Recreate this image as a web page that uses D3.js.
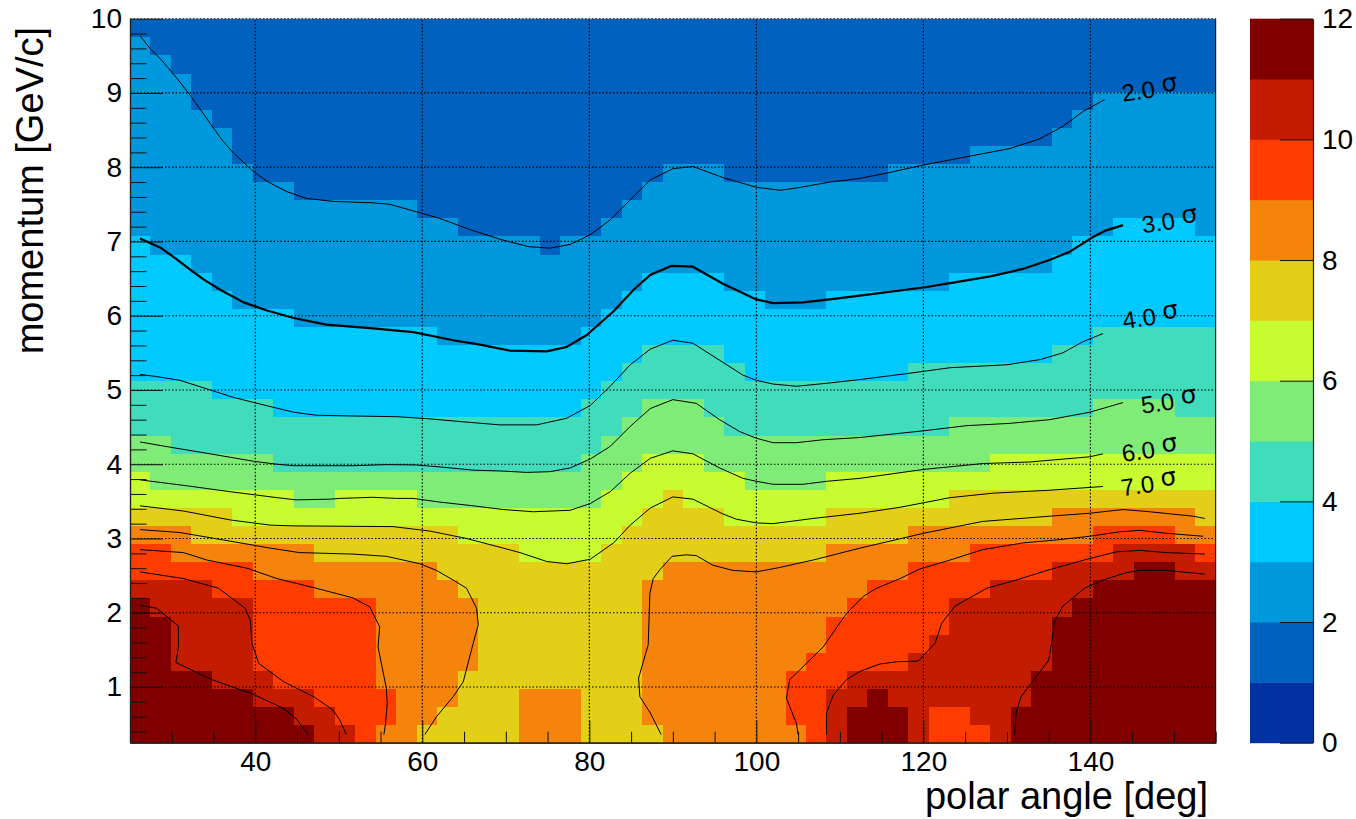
<!DOCTYPE html>
<html>
<head>
<meta charset="utf-8">
<script src="https://cdn.jsdelivr.net/npm/d3@7"></script>
<style>
  body { margin: 0; background: #fff; }
  text { font-family: "Liberation Sans", sans-serif; fill: #000; }
</style>
</head>
<body>
<div id="chart"></div>
<script>
// Histogram binning
const angleRange = [25, 155];
const momentumRange = [0.25, 10];
const nCols = 53;
const nRows = 40;

// For each column: how many rows (from the bottom) reach at least this level
const edge2 = [39,38,37,35,34,32,31,31,30,30,30,30,30,30,29,29,28,28,28,28,27,28,28,29,30,31,32,32,32,31,31,31,31,31,31,31,31,32,32,32,32,33,33,33,33,34,35,36,36,36,36,36,36];
const edge3 = [28,27,27,26,25,24,24,24,23,23,23,23,23,23,23,22,22,22,22,22,22,22,23,24,25,26,26,26,26,25,25,24,24,24,25,25,25,25,25,25,26,26,26,26,26,27,28,28,29,29,29,29,28];
const edge4 = [20,20,20,20,19,19,19,18,18,18,18,18,18,18,18,18,18,18,18,18,18,18,19,20,21,22,22,22,22,21,20,20,20,20,20,20,20,20,21,21,21,21,21,21,21,22,22,23,23,23,23,23,23];
const edge5 = [17,17,16,16,16,16,16,15,15,15,15,15,15,15,15,15,15,15,15,15,15,15,16,17,18,19,19,19,18,17,17,17,17,17,17,17,17,17,17,17,18,18,18,18,18,18,18,19,19,19,19,18,18];
const edge6 = [15,14,14,14,14,14,14,14,13,13,14,14,14,14,13,13,13,13,13,13,13,13,13,14,15,16,16,16,15,15,14,14,14,14,15,15,15,15,15,15,15,15,16,16,16,16,16,16,16,16,16,16,16];
const edge7 = [13,13,13,13,13,12,12,12,12,12,12,12,12,12,12,12,11,11,11,10,10,10,10,11,12,13,14,13,13,12,12,12,12,12,13,13,13,13,13,13,14,14,14,14,14,14,14,14,14,14,14,14,14];
const edge8 = [12,12,12,11,11,11,11,11,11,10,10,10,10,10,10,9,8,0,0,3,3,3,0,0,0,9,10,10,10,10,10,10,10,10,11,11,11,11,12,12,12,12,12,12,12,13,13,13,13,13,13,13,12];
const edge9 = [11,11,10,10,10,10,9,9,9,8,8,8,3,0,0,0,0,0,0,0,0,0,0,0,0,0,0,0,0,0,0,0,4,5,7,8,9,9,10,10,10,11,11,11,11,11,11,12,12,12,12,11,11];
const edge10 = [9,9,9,9,8,8,4,3,3,2,1,0,0,0,0,0,0,0,0,0,0,0,0,0,0,0,0,0,0,0,0,0,0,0,3,4,4,4,5,6,8,8,9,9,9,10,10,10,11,11,11,11,10];
const edge11 = [8,7,4,4,3,3,2,2,1,0,0,0,0,0,0,0,0,0,0,0,0,0,0,0,0,0,0,0,0,0,0,0,0,0,0,2,3,2,0,0,0,0,0,2,4,7,8,9,9,10,10,9,9];
const levelEdges = [[2, edge2], [3, edge3], [4, edge4], [5, edge5], [6, edge6], [7, edge7], [8, edge8], [9, edge9], [10, edge10], [11, edge11]];

// Low patches at the bottom of some columns: [column, rows, level]
const lowPatches = [[12,1,8],[14,1,7],[15,2,7],[16,4,7],[25,1,7],[32,1,8],[39,2,9],[40,2,9],[41,1,9]];

// Palette, one colour per unit of the z axis
const zColors = ["#0033a1","#0061bf","#0098dc","#00c9ff","#40dcbc","#80ec78","#c8fb30","#e3cf17","#f4840c","#ff3c00","#c31c00","#800000"];
const zTicks = [0, 2, 4, 6, 8, 10, 12];

// Contours, [polar angle, momentum]
const contour2 = [[26.2,9.77],[27.4,9.6],[28.8,9.44],[30.6,9.2],[32.2,8.97],[34.6,8.59],[36,8.37],[37.4,8.19],[39.6,7.96],[41.4,7.81],[43.8,7.67],[46.1,7.58],[49.3,7.54],[54.1,7.52],[56.1,7.5],[59.3,7.4],[62.1,7.31],[65.7,7.16],[69.3,7.03],[72.7,6.93],[75.3,6.91],[77.7,6.96],[80.1,7.09],[82.5,7.29],[84.9,7.56],[87.3,7.83],[90,7.98],[92.4,8.01],[96,7.86],[100,7.73],[102.8,7.69],[104.8,7.72],[108.8,7.8],[112.4,7.85],[115.6,7.92],[120,8.03],[125.6,8.15],[130.3,8.25],[133.9,8.38],[136.7,8.55],[139.1,8.75],[141.7,8.91]];
const contour3 = [[26.2,7.04],[28.6,6.92],[30.6,6.76],[32.2,6.62],[33.8,6.49],[35.8,6.35],[38.6,6.18],[41.4,6.07],[44.6,5.97],[48.5,5.88],[54.1,5.83],[58.9,5.78],[63.7,5.67],[66.9,5.61],[70.5,5.53],[74.9,5.52],[77.3,5.58],[79.7,5.74],[82.9,6.06],[85.3,6.35],[87.3,6.55],[89.8,6.67],[92.4,6.66],[96,6.43],[100,6.22],[102,6.17],[105.6,6.18],[108.8,6.22],[112.4,6.27],[117.2,6.34],[120,6.38],[123.2,6.44],[128,6.53],[131.9,6.63],[135.1,6.75],[137.5,6.86],[140.3,7.06],[141.9,7.15],[143.9,7.22]];
const contour4 = [[26.2,5.21],[28.2,5.18],[31,5.13],[34.6,5],[37.4,4.9],[40.6,4.81],[44.6,4.7],[47.3,4.66],[51.7,4.65],[56.9,4.64],[60.5,4.615],[64.5,4.575],[69.3,4.53],[73.7,4.53],[77.3,4.62],[80.1,4.79],[82.5,5.05],[84.9,5.34],[87.3,5.55],[90,5.67],[92.4,5.63],[95.6,5.4],[98.4,5.2],[100,5.13],[102,5.08],[104.8,5.05],[108.4,5.09],[112.4,5.14],[118,5.22],[123.2,5.3],[130,5.34],[134,5.41],[136.7,5.5],[139.1,5.65],[141.5,5.76]];
const contour5 = [[26.2,4.3],[29.8,4.23],[34.6,4.14],[39.8,4.04],[42.6,4],[44.6,3.98],[51.7,3.98],[55.7,3.995],[59.3,3.99],[62.5,3.96],[66.1,3.92],[69.3,3.91],[72.5,3.89],[75.3,3.9],[77.7,3.95],[80.1,4.07],[82.5,4.24],[84.9,4.51],[87.3,4.75],[90,4.87],[92.8,4.82],[95.6,4.6],[98,4.44],[100,4.35],[102,4.29],[104.8,4.29],[108,4.33],[112.4,4.36],[120,4.45],[125.2,4.52],[130.3,4.55],[135.1,4.6],[139.9,4.7],[143.9,4.83]];
const contour6 = [[26.2,3.79],[31.8,3.71],[37,3.63],[42.6,3.55],[44.9,3.52],[49,3.53],[50.1,3.54],[54.1,3.555],[56.9,3.54],[58.9,3.54],[62.1,3.49],[66.1,3.44],[69.7,3.39],[73.3,3.36],[77.7,3.38],[80.1,3.47],[82.5,3.63],[84.9,3.88],[87.3,4.08],[90,4.18],[92.4,4.14],[95.6,3.95],[98.4,3.81],[100,3.77],[102,3.73],[105.6,3.73],[108.4,3.77],[112.4,3.81],[120,3.93],[127.2,4.01],[132.7,4.03],[139.9,4.1],[141.5,4.14]];
const contour7 = [[26.2,3.44],[31.4,3.37],[37,3.25],[41.8,3.18],[44.6,3.17],[56.5,3.16],[60.9,3.1],[65.3,3],[69.7,2.87],[71.7,2.81],[74.9,2.69],[77.3,2.66],[80.1,2.72],[82.9,2.94],[84.9,3.18],[87.3,3.41],[90,3.56],[92.4,3.53],[96,3.33],[97.6,3.26],[100,3.21],[102,3.2],[106.8,3.27],[112.4,3.34],[117.2,3.42],[123.2,3.55],[128.3,3.61],[135.1,3.65],[141.5,3.7]];
const contour8Left = [[26.2,3.12],[31,3.08],[36.2,2.98],[41.8,2.87],[45.3,2.81],[51.7,2.79],[55.7,2.76],[59.7,2.66],[61.7,2.57],[63.7,2.44],[65.3,2.33],[66.5,2.06],[66.7,1.84],[66.1,1.59],[64.9,1.07],[63.7,0.87],[61.7,0.6],[60.3,0.36]];
const contour8Right = [[88.6,0.36],[87.3,0.65],[86.05,0.87],[85.9,1.12],[87.05,1.57],[87.25,2.26],[87.65,2.46],[88.45,2.58],[89.9,2.76],[91.6,2.78],[92.8,2.77],[94.8,2.64],[97.2,2.57],[100,2.55],[102.8,2.61],[106.8,2.71],[112.4,2.87],[120,3.07],[127.1,3.23],[135.1,3.3],[139.9,3.34],[143.9,3.39],[147.1,3.36],[152.3,3.3],[153.7,3.27]];
const contour9Left = [[26.2,2.85],[31.4,2.81],[34.2,2.71],[39,2.6],[42.6,2.46],[47.3,2.33],[51.7,2.2],[53.7,2.08],[54.9,1.81],[54.7,1.54],[55.7,0.98],[55.8,0.78],[55.6,0.51],[55.4,0.36]];
const contour9Right = [[105,0.36],[104.8,0.51],[103.6,0.85],[104,1.1],[105.2,1.23],[108,1.54],[110.8,1.99],[112.8,2.22],[114.4,2.33],[117.2,2.46],[119.6,2.59],[123.2,2.71],[127.1,2.85],[131.9,2.94],[135.9,2.98],[139.9,3.03],[143.5,3.09],[145.9,3.11],[149.1,3.07],[153.5,3.03]];
const contour10Left = [[26.2,2.55],[31.4,2.46],[35.6,2.33],[38.8,2.06],[39.4,1.9],[39.6,1.59],[40.4,1.32],[43.4,1.07],[47,0.87],[49.3,0.69],[50.1,0.56],[50.9,0.36]];
const contour10Right = [[108.4,0.36],[108.4,0.65],[109.2,0.89],[110.8,1.1],[112.4,1.21],[114.8,1.31],[116.8,1.34],[119.4,1.35],[121.4,1.59],[122.2,1.86],[123.8,2.09],[127.6,2.33],[131.1,2.44],[135.1,2.58],[139.9,2.73],[143.1,2.82],[145.9,2.84],[149.1,2.81],[153.7,2.79]];
const contour11Left = [[26.2,2.1],[28.2,2.06],[30.8,1.82],[30.8,1.54],[30.5,1.33],[34.8,1.1],[39.8,0.9],[43.4,0.71],[45,0.56],[46.3,0.36]];
const contour11Right = [[130.9,0.36],[131.1,0.65],[131.7,0.87],[135,1.36],[135.4,1.63],[135.7,1.88],[136.7,2.09],[139.3,2.33],[141.5,2.44],[144.3,2.54],[145.9,2.57],[149.1,2.57],[153.7,2.52]];
const thinContours = [contour2, contour4, contour5, contour6, contour7, contour8Left, contour8Right, contour9Left, contour9Right, contour10Left, contour10Right, contour11Left, contour11Right];

// Contour labels
const sigmaLabels = ["2.0", "3.0", "4.0", "5.0", "6.0", "7.0"];
const sigmaLabelAngles = [143.9, 146.3, 144, 146.2, 143.9, 143.8];
const sigmaLabelMomenta = [8.88, 7.11, 5.82, 4.68, 4.03, 3.57];

// Layout
const frame = { left: 130, right: 1215.7, top: 18.7, bottom: 742.7 };
const paletteBox = { left: 1250, right: 1313 };

const svg = d3.select("#chart")
  .append("svg")
  .attr("width", 1356)
  .attr("height", 819)
  .style("display", "block");

const x = d3.scaleLinear().domain(angleRange).range([frame.left, frame.right]);
const y = d3.scaleLinear().domain(momentumRange).range([frame.bottom, frame.top]);
const z = d3.scaleLinear().domain([0, 12]).range([frame.bottom, frame.top]);
const colBand = d3.scaleLinear().domain([0, nCols]).range(angleRange);
const rowBand = d3.scaleLinear().domain([0, nRows]).range(momentumRange);

// Build the cells from the level edges
const cells = [];
for (let c = 0; c < nCols; c++) {
  for (let r = 0; r < nRows; r++) {
    let level = 1;
    levelEdges.forEach(([l, edge]) => { if (r < edge[c]) level = l; });
    lowPatches.forEach(([pc, rows, l]) => { if (pc === c && r < rows) level = l; });
    cells.push({ c, r, level });
  }
}

svg.append("g")
  .attr("shape-rendering", "crispEdges")
  .selectAll("rect")
  .data(cells)
  .join("rect")
    .attr("x", (d) => x(colBand(d.c)))
    .attr("y", (d) => y(rowBand(d.r + 1)))
    .attr("width", (d) => x(colBand(d.c + 1)) - x(colBand(d.c)) + 0.5)
    .attr("height", (d) => y(rowBand(d.r)) - y(rowBand(d.r + 1)) + 0.5)
    .attr("fill", (d) => zColors[d.level]);

// Dotted grid
const angleMajor = d3.range(40, 141, 20);
const momentumMajor = d3.range(1, 11);
const grid = svg.append("g")
  .attr("stroke", "#000")
  .attr("stroke-width", 1.2)
  .attr("stroke-dasharray", "1.5 2");
grid.selectAll("line.v")
  .data(angleMajor)
  .join("line")
    .attr("class", "v")
    .attr("x1", (d) => x(d)).attr("x2", (d) => x(d))
    .attr("y1", frame.bottom).attr("y2", frame.top);
grid.selectAll("line.h")
  .data(momentumMajor)
  .join("line")
    .attr("class", "h")
    .attr("x1", frame.left).attr("x2", frame.right)
    .attr("y1", (d) => y(d)).attr("y2", (d) => y(d));

// Contours
const line = d3.line().x((d) => x(d[0])).y((d) => y(d[1]));
svg.append("g")
  .attr("fill", "none")
  .attr("stroke", "#000")
  .attr("stroke-width", 1)
  .attr("stroke-linejoin", "round")
  .selectAll("path")
  .data(thinContours)
  .join("path")
    .attr("d", line);
svg.append("path")
  .attr("fill", "none")
  .attr("stroke", "#000")
  .attr("stroke-width", 2.2)
  .attr("stroke-linejoin", "round")
  .attr("d", line(contour3));

// Contour labels
const labels = svg.append("g")
  .selectAll("text")
  .data(sigmaLabels)
  .join("text")
    .attr("transform", (d, i) => `translate(${x(sigmaLabelAngles[i])},${y(sigmaLabelMomenta[i])}) rotate(-8)`)
    .style("font-size", "24px");
labels.append("tspan").text((d) => d);
labels.append("tspan")
  .attr("dx", 7)
  .attr("dy", -4)
  .style("font-size", "25px")
  .style("font-family", "'DejaVu Sans', sans-serif")
  .text("σ");

// Axes
function styleAxis(g) {
  g.select(".domain").attr("stroke", "#222").attr("stroke-width", 1.2);
  g.selectAll("line").attr("stroke", "#111").attr("stroke-width", 1);
  g.selectAll("text").style("font-size", "28px").style("font-family", "'Liberation Sans', sans-serif");
}

svg.append("g")
  .attr("transform", `translate(0,${frame.bottom})`)
  .call(d3.axisBottom(x).tickValues(d3.range(25, 156, 5).filter((d) => d % 20 !== 0)).tickSize(-11).tickSizeOuter(0).tickFormat(""))
  .call(styleAxis);
svg.append("g")
  .attr("transform", `translate(0,${frame.bottom})`)
  .call(d3.axisBottom(x).tickValues(angleMajor).tickSize(-22).tickSizeOuter(0).tickPadding(8))
  .call(styleAxis);

const momentumMinor = d3.range(0.4, 10, 0.2).filter((d) => Math.abs(d - Math.round(d)) > 0.01);
svg.append("g")
  .attr("transform", `translate(${frame.left},0)`)
  .call(d3.axisLeft(y).tickValues(momentumMinor).tickSize(-16.5).tickSizeOuter(0).tickFormat(""))
  .call(styleAxis);
svg.append("g")
  .attr("transform", `translate(${frame.left},0)`)
  .call(d3.axisLeft(y).tickValues(momentumMajor).tickSize(-33).tickSizeOuter(0).tickPadding(8))
  .call(styleAxis);

// Right and top frame edges
svg.append("line")
  .attr("x1", frame.right).attr("x2", frame.right)
  .attr("y1", frame.top).attr("y2", frame.bottom)
  .attr("stroke", "#000");
svg.append("line")
  .attr("x1", frame.left).attr("x2", frame.right)
  .attr("y1", frame.top).attr("y2", frame.top)
  .attr("stroke", "#999").attr("stroke-width", 0.6);

// Axis titles
svg.append("text")
  .attr("x", 1208)
  .attr("y", 809)
  .attr("text-anchor", "end")
  .style("font-size", "38px")
  .text("polar angle [deg]");
svg.append("text")
  .attr("transform", "translate(43,27) rotate(-90)")
  .attr("text-anchor", "end")
  .style("font-size", "38px")
  .text("momentum [GeV/c]");

// Colour bar
svg.append("g")
  .selectAll("rect")
  .data(zColors)
  .join("rect")
    .attr("x", paletteBox.left)
    .attr("y", (d, i) => z(i + 1))
    .attr("width", paletteBox.right - paletteBox.left)
    .attr("height", (d, i) => z(i) - z(i + 1) + 0.5)
    .attr("fill", (d) => d);

svg.append("g")
  .attr("transform", `translate(${paletteBox.right},0)`)
  .call(d3.axisRight(z).tickValues(zTicks).tickSize(-33).tickSizeOuter(0).tickPadding(9))
  .call(styleAxis);
</script>
</body>
</html>
